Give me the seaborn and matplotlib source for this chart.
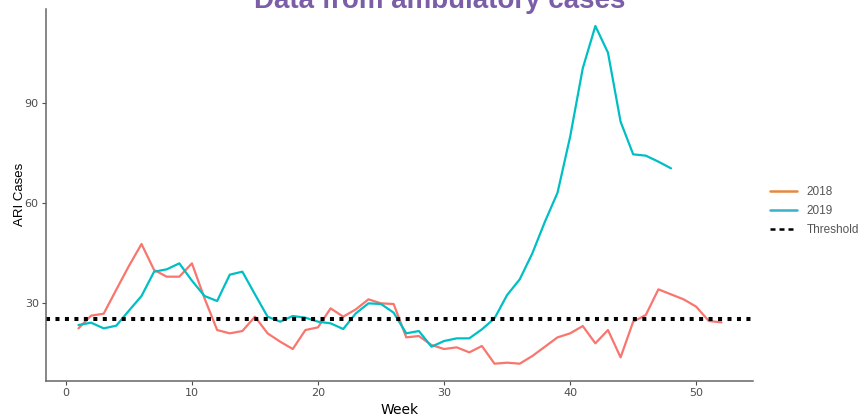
import matplotlib
matplotlib.use("Agg")
import matplotlib.pyplot as plt
from matplotlib.lines import Line2D
import pandas as pd
import seaborn as sns

weeks_2018 = list(range(1, 53))
cases_2018 = [22.3, 26.1, 26.7, 33.9, 41.0, 47.6, 39.8, 37.8, 37.8, 41.8,
              31.3, 21.8, 20.8, 21.5, 25.8, 20.8, 18.3, 16.1, 21.8, 22.6,
              28.3, 25.8, 28.0, 31.0, 29.8, 29.6, 19.6, 20.0, 17.3, 16.1,
              16.6, 15.1, 17.0, 11.7, 12.0, 11.7, 14.0, 16.8, 19.6, 20.8,
              23.0, 17.8, 21.8, 13.6, 24.3, 26.3, 34.0, 32.5, 31.0, 28.8,
              24.5, 24.1]

weeks_2019 = list(range(1, 49))
cases_2019 = [23.3, 24.0, 22.3, 23.1, 27.6, 32.0, 39.3, 40.0, 41.8, 36.6,
              32.0, 30.5, 38.4, 39.3, 32.5, 25.8, 24.3, 26.0, 25.5, 24.3,
              23.8, 22.1, 26.8, 29.8, 29.6, 27.0, 20.8, 21.5, 16.8, 18.5,
              19.3, 19.3, 22.0, 25.3, 32.3, 37.0, 44.8, 54.3, 63.0, 79.8,
              100.3, 113.0, 105.0, 84.3, 74.5, 74.1, 72.3, 70.3]

threshold = 25
x_ticks = [0, 10, 20, 30, 40, 50]
y_ticks = [30, 60, 90]

df = pd.concat([
    pd.DataFrame({"Week": weeks_2018, "Cases": cases_2018, "Year": "2018"}),
    pd.DataFrame({"Week": weeks_2019, "Cases": cases_2019, "Year": "2019"}),
])

sns.set_theme(style="white")
plt.rcParams["font.family"] = ["DejaVu Sans"]

fig = plt.figure(figsize=(8.62, 4.2), dpi=100)
ax = fig.add_axes([0.053, 0.0936, 0.8205, 0.885])

sns.lineplot(data=df, x="Week", y="Cases", hue="Year",
             palette={"2018": "#F8766D", "2019": "#00BFC4"},
             linewidth=1.6, legend=False, ax=ax)
ax.axhline(threshold, color="black", linewidth=2.9,
           linestyle=(0, (1, 1.35)), dash_capstyle="butt")

ax.set_xlim(-1.6, 54.5)
ax.set_ylim(6.6, 118.1)
ax.set_xticks(x_ticks)
ax.set_yticks(y_ticks)
ax.tick_params(axis="both", colors="#4D4D4D", labelsize=8, length=3, width=0.8,
               pad=2, direction="out", bottom=True, left=True)
for side in ["top", "right"]:
    ax.spines[side].set_visible(False)
for side in ["left", "bottom"]:
    ax.spines[side].set_color("#666666")
    ax.spines[side].set_linewidth(1.1)

ax.set_xlabel("Week", fontsize=10, color="black", labelpad=4)
ax.set_ylabel("ARI Cases", fontsize=9.5, color="black", labelpad=-1,
              family=["Liberation Sans", "DejaVu Sans"])

fig.text(0.51, 1 - 8 / 420, "Data from ambulatory cases", ha="center",
         va="baseline", fontsize=20, fontweight="bold", color="#7B5EA7",
         family=["Liberation Sans", "DejaVu Sans"])

handles = [
    Line2D([], [], color="#E8873D", linewidth=1.8),
    Line2D([], [], color="#3AAFC8", linewidth=1.8),
    Line2D([], [], color="black", linewidth=1.8, linestyle=(0, (2, 1.6))),
]
leg = fig.legend(handles, ["2018", "2019", "Threshold"], loc="upper left",
                 bbox_to_anchor=(0.893, 0.557), frameon=False,
                 handlelength=2.3, handletextpad=0.8, labelspacing=0.6,
                 borderpad=0, borderaxespad=0,
                 prop={"family": ["Liberation Sans", "DejaVu Sans"], "size": 8.5})
for t in leg.get_texts():
    t.set_color("#555555")

fig.savefig("out.png", dpi=100)
